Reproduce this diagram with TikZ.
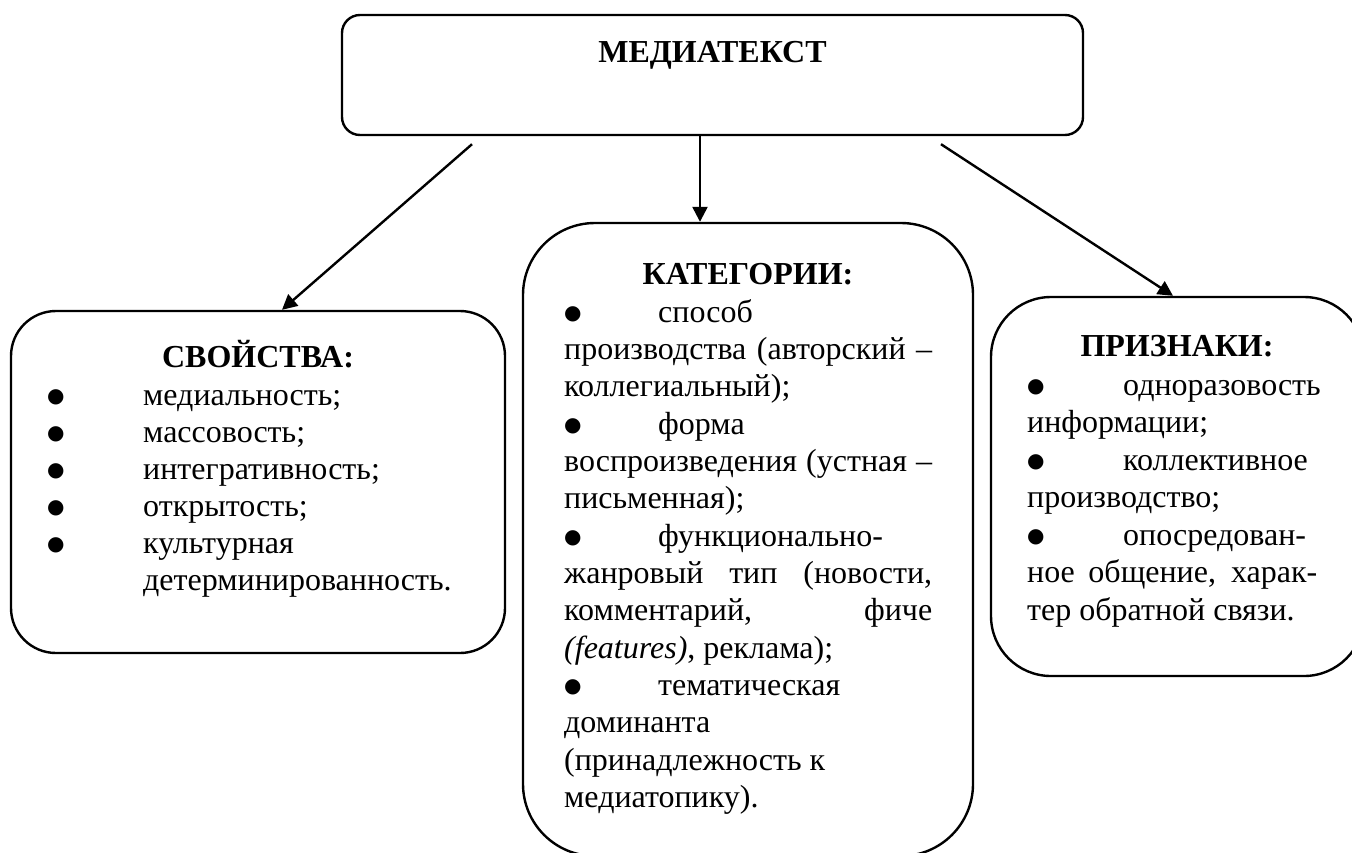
\documentclass[tikz,border=0pt]{standalone}
\usepackage{fontspec}
\setmainfont{Liberation Serif}
\newfontfamily\dejavu{DejaVu Sans}
\usetikzlibrary{arrows.meta}
\newcommand{\bul}{\raisebox{3pt}{\dejavu\fontsize{20}{20}\selectfont ●}}
\begin{document}
\begin{tikzpicture}[x=1pt,y=-1pt,
  box/.style={draw, line width=2.4pt, inner sep=0pt},
  arr/.style={line width=2.4pt, -{Triangle[width=15pt,length=15pt]}},
  ttl/.style={anchor=base, inner sep=0pt, font=\fontsize{32}{37}\selectfont\bfseries},
  txt/.style={anchor=base west, inner sep=0pt}]
\useasboundingbox (0,0) rectangle (1352,852);
\clip (0,0) rectangle (1352,852);
% boxes
\node[box, minimum width=741pt, minimum height=120pt, rounded corners=18pt] (top) at (712.5,75) {};
\node[box, minimum width=494pt, minimum height=342pt, rounded corners=45pt] (left) at (258,482) {};
\node[box, minimum width=450pt, minimum height=633pt, rounded corners=72pt] (mid) at (748,539.5) {};
\node[box, minimum width=373pt, minimum height=379pt, rounded corners=60pt] (right) at (1177.5,486.5) {};
% titles
\node[ttl] (ttop) at (712.5,62) {МЕДИАТЕКСТ};
\node[ttl] (tleft) at (258,367) {СВОЙСТВА:};
\node[ttl] (tmid) at (748,284) {КАТЕГОРИИ:};
\node[ttl] (tright) at (1177,356) {ПРИЗНАКИ:};
% texts
\node[txt] (xleft) at (47,405) {\parbox[t]{440pt}{\fontsize{32}{37}\selectfont
\makebox[96pt][l]{\bul}медиальность;\\
\makebox[96pt][l]{\bul}массовость;\\
\makebox[96pt][l]{\bul}интегративность;\\
\makebox[96pt][l]{\bul}открытость;\\
\makebox[96pt][l]{\bul}культурная\\
\hspace*{96pt}детерминированность.}};
\node[txt] (xmid) at (564,322) {\parbox[t]{368pt}{\fontsize{32}{37.35}\selectfont
\makebox[94pt][l]{\bul}способ\\
\makebox[\linewidth][s]{производства (авторский –}\\
коллегиальный);\\
\makebox[94pt][l]{\bul}форма\\
\makebox[\linewidth][s]{воспроизведения (устная –}\\
письменная);\\
\makebox[94pt][l]{\bul}функционально-\\
\makebox[\linewidth][s]{жанровый тип (новости,}\\
\makebox[\linewidth][s]{комментарий, фиче}\\
\textit{(features)}, реклама);\\
\makebox[94pt][l]{\bul}тематическая\\
доминанта\\
(принадлежность к\\
медиатопику).}};
\node[txt] (xright) at (1027,395) {\parbox[t]{290pt}{\fontsize{32}{37.5}\selectfont
\makebox[96pt][l]{\bul}одноразовость\\
информации;\\
\makebox[96pt][l]{\bul}коллективное\\
производство;\\
\makebox[96pt][l]{\bul}опосредован-\\
\makebox[\linewidth][s]{ное общение, харак-}\\
тер обратной связи.}};
% arrows
\draw[arr] ([xshift=-12.5pt]top.south) -- ([xshift=-48pt]mid.north);
\draw[arr] ([xshift=-240.5pt,yshift=-8pt]top.south) -- ([xshift=24pt]left.north);
\draw[arr] ([xshift=228.5pt,yshift=-8pt]top.south) -- ([xshift=-4.5pt]right.north);
\end{tikzpicture}
\end{document}
